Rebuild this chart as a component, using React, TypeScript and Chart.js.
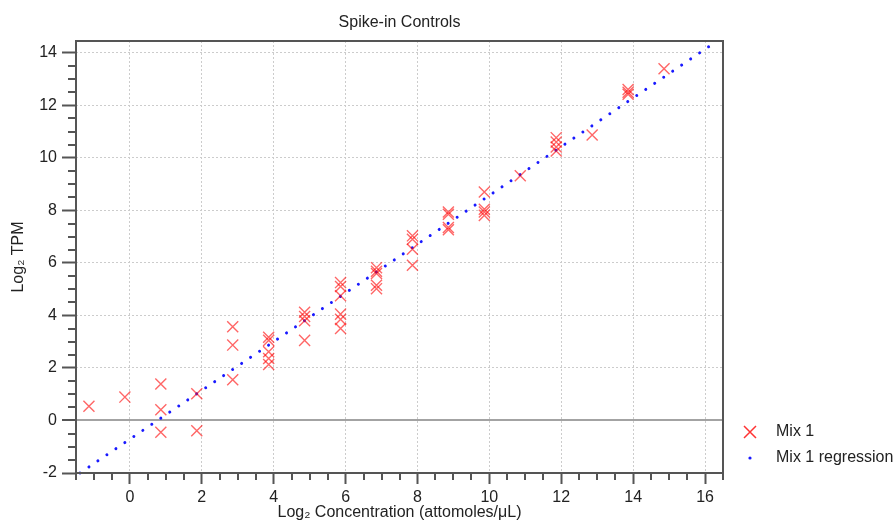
import React, { useEffect, useRef } from 'react';
import { Chart, registerables } from 'chart.js';

Chart.register(...registerables);

// Mix 1 measurements: log2 concentration (x) and log2 TPM (y)
const mix1Conc = [
  -1.14,
  -0.14,
  0.86, 0.86, 0.86,
  1.86, 1.86,
  2.86, 2.86, 2.86,
  3.86, 3.86, 3.86, 3.86, 3.86,
  4.86, 4.86, 4.86, 4.86,
  5.86, 5.86, 5.86, 5.86, 5.86, 5.86,
  6.86, 6.86, 6.86, 6.86, 6.86,
  7.86, 7.86, 7.86, 7.86,
  8.86, 8.86, 8.86, 8.86,
  9.86, 9.86, 9.86, 9.86,
  10.86,
  11.86, 11.86, 11.86, 11.86,
  12.86,
  13.86, 13.86, 13.86,
  14.86,
];
const mix1Tpm = [
  0.54,
  0.89,
  1.39, 0.41, -0.45,
  1.02, -0.39,
  3.57, 2.87, 1.55,
  3.17, 3.05, 2.62, 2.36, 2.13,
  4.12, 3.96, 3.8, 3.05,
  5.25, 5.1, 4.75, 4.05, 3.85, 3.5,
  5.82, 5.68, 5.6, 5.15, 5.02,
  7.03, 6.9, 6.52, 5.91,
  7.94, 7.85, 7.35, 7.26,
  8.7, 8.04, 7.94, 7.81,
  9.32,
  10.77, 10.6, 10.41, 10.26,
  10.87,
  12.6, 12.5, 12.42,
  13.39,
];

// Regression line end points
const regressionConc = [-1.39, 16.11];
const regressionTpm = [-2.0, 14.24];

// Axis ranges
const xRange = [-1.5, 16.5];
const yRange = [-2, 14.45];

const TITLE = 'Spike-in Controls';
const X_TITLE = 'Log\u2082 Concentration (attomoles/\u03bcL)';
const Y_TITLE = 'Log\u2082 TPM';
const LEGEND_LABELS = ['Mix 1', 'Mix 1 regression'];

const FONT = "'Liberation Sans', Arial, sans-serif";
const FS = 16;
const TEXT = '#222222';
const AXIS = '#555555';
const CROSS = 'rgba(255,0,0,0.6)';
const BLUE = 'rgb(25,25,255)';

const isMajor = (v: number) => Math.abs(v / 2 - Math.round(v / 2)) < 1e-6;
const isHalf = (v: number) => Math.abs(v * 2 - Math.round(v * 2)) < 1e-6;

const decorPlugin = {
  id: 'decor',
  afterDraw(chart: any) {
    const { ctx, chartArea: a, scales } = chart;
    ctx.save();
    ctx.strokeStyle = AXIS;
    ctx.lineWidth = 2;
    // minor ticks
    const xs = scales.x;
    xs.ticks.forEach((t: any) => {
      if (isHalf(t.value) && !isMajor(t.value)) {
        const px = Math.round(xs.getPixelForValue(t.value));
        ctx.beginPath();
        ctx.moveTo(px, a.bottom);
        ctx.lineTo(px, a.bottom + 7);
        ctx.stroke();
      }
    });
    const ys = scales.y;
    ys.ticks.forEach((t: any) => {
      if (isHalf(t.value) && !isMajor(t.value)) {
        const py = Math.round(ys.getPixelForValue(t.value));
        ctx.beginPath();
        ctx.moveTo(a.left, py);
        ctx.lineTo(a.left - 8, py);
        ctx.stroke();
      }
    });
    // frame
    ctx.strokeRect(a.left, a.top, a.right - a.left, a.bottom - a.top);

    // legend
    const lx = 750;
    const ly1 = 432;
    const ly2 = 458;
    ctx.strokeStyle = 'rgba(255,0,0,0.8)';
    ctx.lineWidth = 1.5;
    ctx.beginPath();
    ctx.moveTo(lx - 6, ly1 - 6);
    ctx.lineTo(lx + 6, ly1 + 6);
    ctx.moveTo(lx + 6, ly1 - 6);
    ctx.lineTo(lx - 6, ly1 + 6);
    ctx.stroke();
    ctx.fillStyle = BLUE;
    ctx.beginPath();
    ctx.arc(lx, ly2, 1.6, 0, Math.PI * 2);
    ctx.fill();
    ctx.fillStyle = TEXT;
    ctx.font = `${FS}px ${FONT}`;
    ctx.textAlign = 'left';
    ctx.textBaseline = 'middle';
    ctx.fillText(LEGEND_LABELS[0], 776, ly1);
    ctx.fillText(LEGEND_LABELS[1], 776, ly2);
    ctx.restore();
  },
};

export default function App() {
  const ref = useRef<HTMLCanvasElement>(null);

  useEffect(() => {
    if (!ref.current) return;
    Chart.defaults.font.family = FONT;
    const chart = new Chart(ref.current, {
      type: 'scatter',
      data: {
        datasets: [
          {
            label: LEGEND_LABELS[0],
            data: mix1Conc.map((x, i) => ({ x, y: mix1Tpm[i] })),
            pointStyle: 'crossRot',
            pointRadius: 7.8,
            borderColor: CROSS,
            backgroundColor: CROSS,
            borderWidth: 1.4,
            showLine: false,
            order: 1,
          },
          {
            type: 'line',
            label: LEGEND_LABELS[1],
            data: regressionConc.map((x, i) => ({ x, y: regressionTpm[i] })),
            borderColor: BLUE,
            borderWidth: 3,
            borderDash: [0.01, 10.84],
            borderCapStyle: 'round',
            pointRadius: 0,
            showLine: true,
            fill: false,
            clip: 3,
            order: 2,
          } as any,
        ],
      },
      options: {
        responsive: false,
        animation: false,
        events: [],
        layout: { padding: { left: 0, right: 170, top: 0, bottom: 0 } },
        plugins: {
          legend: { display: false },
          tooltip: { enabled: false },
          title: {
            display: true,
            text: TITLE,
            fullSize: false,
            color: TEXT,
            font: { size: FS, family: FONT, weight: 'normal', lineHeight: 1.2 },
            padding: { top: 12.5, bottom: 9.3 },
          },
        },
        scales: {
          x: {
            type: 'linear',
            min: xRange[0],
            max: xRange[1],
            afterFit: (s: any) => {
              s.height = 49;
            },
            ticks: {
              stepSize: 0.5,
              autoSkip: false,
              maxRotation: 0,
              includeBounds: false,
              padding: 4,
              color: TEXT,
              font: { size: FS, family: FONT, lineHeight: 1.2 },
              callback: (v: any) => (isMajor(Number(v)) ? String(Math.round(Number(v))) : ''),
            },
            grid: {
              color: (c: any) => (c.tick && isMajor(c.tick.value) ? '#cccccc' : 'rgba(0,0,0,0)'),
              lineWidth: 1,
              tickLength: 11,
              tickWidth: 2,
              tickColor: (c: any) => (c.tick && isMajor(c.tick.value) ? AXIS : 'rgba(0,0,0,0)'),
            },
            border: { display: false, dash: [2, 2] },
            title: {
              display: true,
              text: X_TITLE,
              color: TEXT,
              font: { size: FS, family: FONT, lineHeight: 1.2 },
              padding: { top: 0, bottom: 0 },
            },
          },
          y: {
            type: 'linear',
            min: yRange[0],
            max: yRange[1],
            afterFit: (s: any) => {
              s.width = 76;
            },
            ticks: {
              stepSize: 0.5,
              autoSkip: false,
              includeBounds: false,
              padding: 5,
              color: TEXT,
              font: { size: FS, family: FONT, lineHeight: 1.2 },
              callback: (v: any) => (isMajor(Number(v)) ? String(Math.round(Number(v))) : ''),
            },
            grid: {
              color: (c: any) => {
                if (!c.tick) return 'rgba(0,0,0,0)';
                if (Math.abs(c.tick.value) < 1e-6) return '#a3a3a3';
                return isMajor(c.tick.value) ? '#cccccc' : 'rgba(0,0,0,0)';
              },
              lineWidth: (c: any) => (c.tick && Math.abs(c.tick.value) < 1e-6 ? 2 : 1),
              tickLength: 14,
              tickWidth: 2,
              tickColor: (c: any) => (c.tick && isMajor(c.tick.value) ? AXIS : 'rgba(0,0,0,0)'),
            },
            border: {
              display: false,
              dash: (c: any) => (c.tick && Math.abs(c.tick.value) < 1e-6 ? [] : [2, 2]),
            },
            title: {
              display: true,
              text: Y_TITLE,
              color: TEXT,
              font: { size: FS, family: FONT, lineHeight: 1.2 },
              padding: { top: 8.5, bottom: 0 },
            },
          },
        },
      } as any,
      plugins: [decorPlugin],
    });
    return () => chart.destroy();
  }, []);

  return (
    <div style={{ position: 'fixed', left: 0, top: 0, width: 893, height: 522, background: '#ffffff' }}>
      <canvas ref={ref} width={893} height={522} style={{ display: 'block' }} />
    </div>
  );
}
